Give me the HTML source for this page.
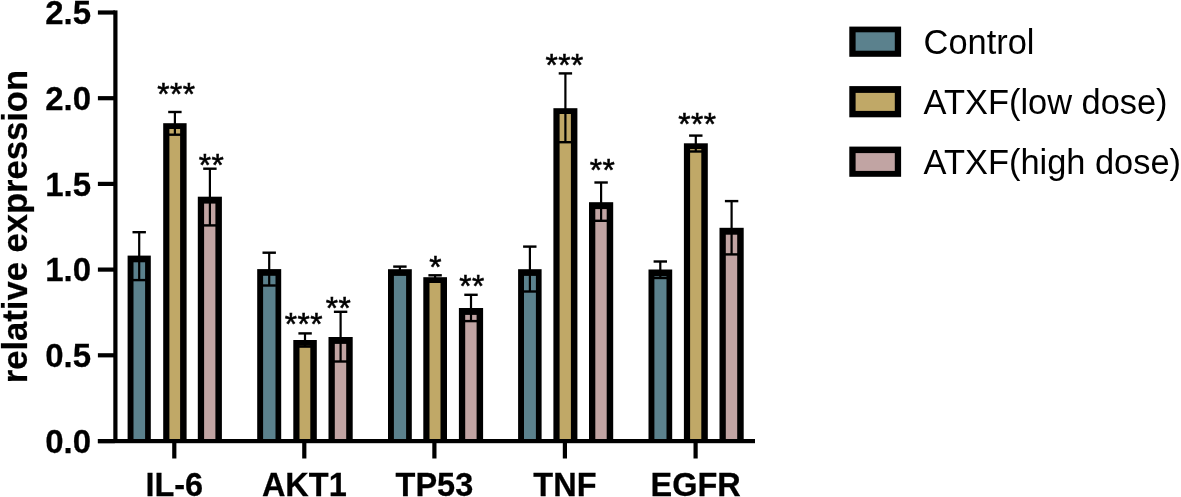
<!DOCTYPE html>
<html><head><meta charset="utf-8"><title>relative expression</title>
<style>
html,body{margin:0;padding:0;background:#fff;overflow:hidden;}
svg{display:block}
text{font-family:"Liberation Sans",Arial,sans-serif;fill:#000}
.b{font-weight:bold;stroke:#000;stroke-width:0.25px}
</style></head><body>
<svg width="1181" height="497" viewBox="0 0 1181 497">
<rect x="0" y="0" width="1181" height="497" fill="#fff"/>

<rect x="127.6" y="255.6" width="23.2" height="185.4" fill="#000"/>
<rect x="133.5" y="262.3" width="11.6" height="176.9" fill="#5b818d"/>
<rect x="138.1" y="232.2" width="2.2" height="47.9" fill="#000"/>
<rect x="132.5" y="231.0" width="13.4" height="2.4" fill="#000"/>
<rect x="132.5" y="278.9" width="13.4" height="2.4" fill="#000"/>
<rect x="163.2" y="123.2" width="23.4" height="317.8" fill="#000"/>
<rect x="169.4" y="129.0" width="10.7" height="310.2" fill="#c0a867"/>
<rect x="173.8" y="112.0" width="2.2" height="22.7" fill="#000"/>
<rect x="168.2" y="110.8" width="13.4" height="2.4" fill="#000"/>
<rect x="168.2" y="133.5" width="13.4" height="2.4" fill="#000"/>
<rect x="197.8" y="196.7" width="24.1" height="244.3" fill="#000"/>
<rect x="204.1" y="203.6" width="11.3" height="235.6" fill="#c1a4a3"/>
<rect x="208.8" y="168.7" width="2.2" height="56.7" fill="#000"/>
<rect x="203.2" y="167.5" width="13.4" height="2.4" fill="#000"/>
<rect x="203.2" y="224.2" width="13.4" height="2.4" fill="#000"/>
<rect x="257.2" y="269.1" width="24.0" height="171.9" fill="#000"/>
<rect x="263.1" y="275.8" width="12.4" height="163.4" fill="#5b818d"/>
<rect x="268.1" y="252.7" width="2.2" height="32.8" fill="#000"/>
<rect x="262.5" y="251.5" width="13.4" height="2.4" fill="#000"/>
<rect x="262.5" y="284.3" width="13.4" height="2.4" fill="#000"/>
<rect x="293.3" y="340.0" width="23.5" height="101.0" fill="#000"/>
<rect x="299.5" y="345.8" width="10.8" height="93.4" fill="#c0a867"/>
<rect x="303.9" y="333.4" width="2.2" height="13.2" fill="#000"/>
<rect x="298.4" y="332.2" width="13.4" height="2.4" fill="#000"/>
<rect x="298.4" y="345.4" width="13.4" height="2.4" fill="#000"/>
<rect x="328.5" y="337.0" width="24.2" height="104.0" fill="#000"/>
<rect x="334.8" y="343.9" width="11.4" height="95.3" fill="#c1a4a3"/>
<rect x="339.5" y="311.8" width="2.2" height="49.7" fill="#000"/>
<rect x="333.9" y="310.6" width="13.4" height="2.4" fill="#000"/>
<rect x="333.9" y="360.3" width="13.4" height="2.4" fill="#000"/>
<rect x="388.0" y="269.2" width="23.8" height="171.8" fill="#000"/>
<rect x="393.9" y="275.9" width="12.2" height="163.3" fill="#5b818d"/>
<rect x="398.8" y="266.6" width="2.2" height="5.4" fill="#000"/>
<rect x="393.2" y="265.4" width="13.4" height="2.4" fill="#000"/>
<rect x="393.2" y="270.8" width="13.4" height="2.4" fill="#000"/>
<rect x="423.3" y="277.2" width="23.7" height="163.8" fill="#000"/>
<rect x="429.5" y="283.0" width="11.0" height="156.2" fill="#c0a867"/>
<rect x="434.0" y="275.3" width="2.2" height="4.2" fill="#000"/>
<rect x="428.4" y="274.1" width="13.4" height="2.4" fill="#000"/>
<rect x="428.4" y="278.3" width="13.4" height="2.4" fill="#000"/>
<rect x="458.9" y="308.0" width="24.2" height="133.0" fill="#000"/>
<rect x="465.2" y="314.9" width="11.4" height="124.3" fill="#c1a4a3"/>
<rect x="469.9" y="294.8" width="2.2" height="26.3" fill="#000"/>
<rect x="464.3" y="293.6" width="13.4" height="2.4" fill="#000"/>
<rect x="464.3" y="319.9" width="13.4" height="2.4" fill="#000"/>
<rect x="518.1" y="269.2" width="23.5" height="171.8" fill="#000"/>
<rect x="524.0" y="275.9" width="11.9" height="163.3" fill="#5b818d"/>
<rect x="528.8" y="246.6" width="2.2" height="44.9" fill="#000"/>
<rect x="523.1" y="245.4" width="13.4" height="2.4" fill="#000"/>
<rect x="523.1" y="290.3" width="13.4" height="2.4" fill="#000"/>
<rect x="553.4" y="108.2" width="24.0" height="332.8" fill="#000"/>
<rect x="559.6" y="114.0" width="11.3" height="325.2" fill="#c0a867"/>
<rect x="564.3" y="73.4" width="2.2" height="68.8" fill="#000"/>
<rect x="558.7" y="72.2" width="13.4" height="2.4" fill="#000"/>
<rect x="558.7" y="141.0" width="13.4" height="2.4" fill="#000"/>
<rect x="589.0" y="202.2" width="24.2" height="238.8" fill="#000"/>
<rect x="595.3" y="209.1" width="11.4" height="230.1" fill="#c1a4a3"/>
<rect x="600.0" y="182.5" width="2.2" height="38.3" fill="#000"/>
<rect x="594.4" y="181.3" width="13.4" height="2.4" fill="#000"/>
<rect x="594.4" y="219.6" width="13.4" height="2.4" fill="#000"/>
<rect x="648.5" y="269.5" width="23.7" height="171.5" fill="#000"/>
<rect x="654.4" y="276.2" width="12.1" height="163.0" fill="#5b818d"/>
<rect x="659.2" y="261.5" width="2.2" height="16.5" fill="#000"/>
<rect x="653.6" y="260.3" width="13.4" height="2.4" fill="#000"/>
<rect x="653.6" y="276.8" width="13.4" height="2.4" fill="#000"/>
<rect x="683.9" y="143.3" width="23.9" height="297.7" fill="#000"/>
<rect x="690.1" y="149.1" width="11.2" height="290.1" fill="#c0a867"/>
<rect x="694.7" y="135.6" width="2.2" height="15.9" fill="#000"/>
<rect x="689.1" y="134.4" width="13.4" height="2.4" fill="#000"/>
<rect x="689.1" y="150.3" width="13.4" height="2.4" fill="#000"/>
<rect x="719.5" y="227.8" width="24.2" height="213.2" fill="#000"/>
<rect x="725.8" y="234.7" width="11.4" height="204.5" fill="#c1a4a3"/>
<rect x="730.5" y="201.1" width="2.2" height="53.3" fill="#000"/>
<rect x="724.9" y="199.9" width="13.4" height="2.4" fill="#000"/>
<rect x="724.9" y="253.2" width="13.4" height="2.4" fill="#000"/>
<rect x="113.3" y="10.4" width="4.2" height="431" fill="#000"/>
<rect x="97.9" y="439" width="657.1" height="4.2" fill="#000"/>
<rect x="97.9" y="10.4" width="17" height="4.2" fill="#000"/>
<text class="b" transform="translate(91.1,24.2) scale(1,1.02)" font-size="33" text-anchor="end">2.5</text>
<rect x="97.9" y="96.1" width="17" height="4.2" fill="#000"/>
<text class="b" transform="translate(91.1,109.9) scale(1,1.02)" font-size="33" text-anchor="end">2.0</text>
<rect x="97.9" y="181.8" width="17" height="4.2" fill="#000"/>
<text class="b" transform="translate(91.1,195.6) scale(1,1.02)" font-size="33" text-anchor="end">1.5</text>
<rect x="97.9" y="267.5" width="17" height="4.2" fill="#000"/>
<text class="b" transform="translate(91.1,281.3) scale(1,1.02)" font-size="33" text-anchor="end">1.0</text>
<rect x="97.9" y="353.2" width="17" height="4.2" fill="#000"/>
<text class="b" transform="translate(91.1,367.0) scale(1,1.02)" font-size="33" text-anchor="end">0.5</text>
<rect x="97.9" y="439.0" width="17" height="4.2" fill="#000"/>
<text class="b" transform="translate(91.1,452.8) scale(1,1.02)" font-size="33" text-anchor="end">0.0</text>
<rect x="172.2" y="441" width="4.2" height="17.5" fill="#000"/>
<text class="b" transform="translate(174.3,496.1) scale(1,1.02)" font-size="32.5" text-anchor="middle">IL-6</text>
<rect x="302.2" y="441" width="4.2" height="17.5" fill="#000"/>
<text class="b" transform="translate(304.3,496.1) scale(1,1.02)" font-size="32.5" text-anchor="middle">AKT1</text>
<rect x="432.3" y="441" width="4.2" height="17.5" fill="#000"/>
<text class="b" transform="translate(434.4,496.1) scale(1,1.02)" font-size="32.5" text-anchor="middle">TP53</text>
<rect x="562.8" y="441" width="4.2" height="17.5" fill="#000"/>
<text class="b" transform="translate(564.9,496.1) scale(1,1.02)" font-size="32.5" text-anchor="middle">TNF</text>
<rect x="693.5" y="441" width="4.2" height="17.5" fill="#000"/>
<text class="b" transform="translate(695.6,496.1) scale(1,1.02)" font-size="32.5" text-anchor="middle">EGFR</text>
<text class="b" font-size="34.6" text-anchor="middle" transform="translate(26.6,226.6) rotate(-90)">relative expression</text>
<text x="176.3" y="104.9" font-size="31.5" text-anchor="middle" stroke="#000" stroke-width="0.55" letter-spacing="0.5">***</text>
<text x="211.5" y="176.2" font-size="31.5" text-anchor="middle" stroke="#000" stroke-width="0.55" letter-spacing="0.5">**</text>
<text x="303.9" y="334.5" font-size="31.5" text-anchor="middle" stroke="#000" stroke-width="0.55" letter-spacing="0.5">***</text>
<text x="338.6" y="319.0" font-size="31.5" text-anchor="middle" stroke="#000" stroke-width="0.55" letter-spacing="0.5">**</text>
<text x="435.7" y="278.4" font-size="31.5" text-anchor="middle" stroke="#000" stroke-width="0.55" letter-spacing="0.5">*</text>
<text x="472.0" y="296.5" font-size="31.5" text-anchor="middle" stroke="#000" stroke-width="0.55" letter-spacing="0.5">**</text>
<text x="564.7" y="75.9" font-size="31.5" text-anchor="middle" stroke="#000" stroke-width="0.55" letter-spacing="0.5">***</text>
<text x="602.6" y="180.8" font-size="31.5" text-anchor="middle" stroke="#000" stroke-width="0.55" letter-spacing="0.5">**</text>
<text x="697.4" y="135.4" font-size="31.5" text-anchor="middle" stroke="#000" stroke-width="0.55" letter-spacing="0.5">***</text>
<rect x="849.3" y="26.6" width="51.8" height="30.2" fill="#000"/>
<rect x="855.6" y="32.3" width="39.2" height="18.4" fill="#5b818d"/>
<text x="923.6" y="53.8" font-size="34.4">Control</text>
<rect x="849.3" y="86.1" width="51.8" height="31.2" fill="#000"/>
<rect x="855.6" y="92.9" width="39.2" height="18.0" fill="#c0a867"/>
<text x="923.6" y="113.8" font-size="34.4">ATXF(low dose)</text>
<rect x="849.3" y="146.6" width="51.8" height="30.2" fill="#000"/>
<rect x="855.6" y="153.1" width="39.2" height="17.8" fill="#c1a4a3"/>
<text x="923.6" y="173.7" font-size="34.4">ATXF(high dose)</text>
</svg>
</body></html>
